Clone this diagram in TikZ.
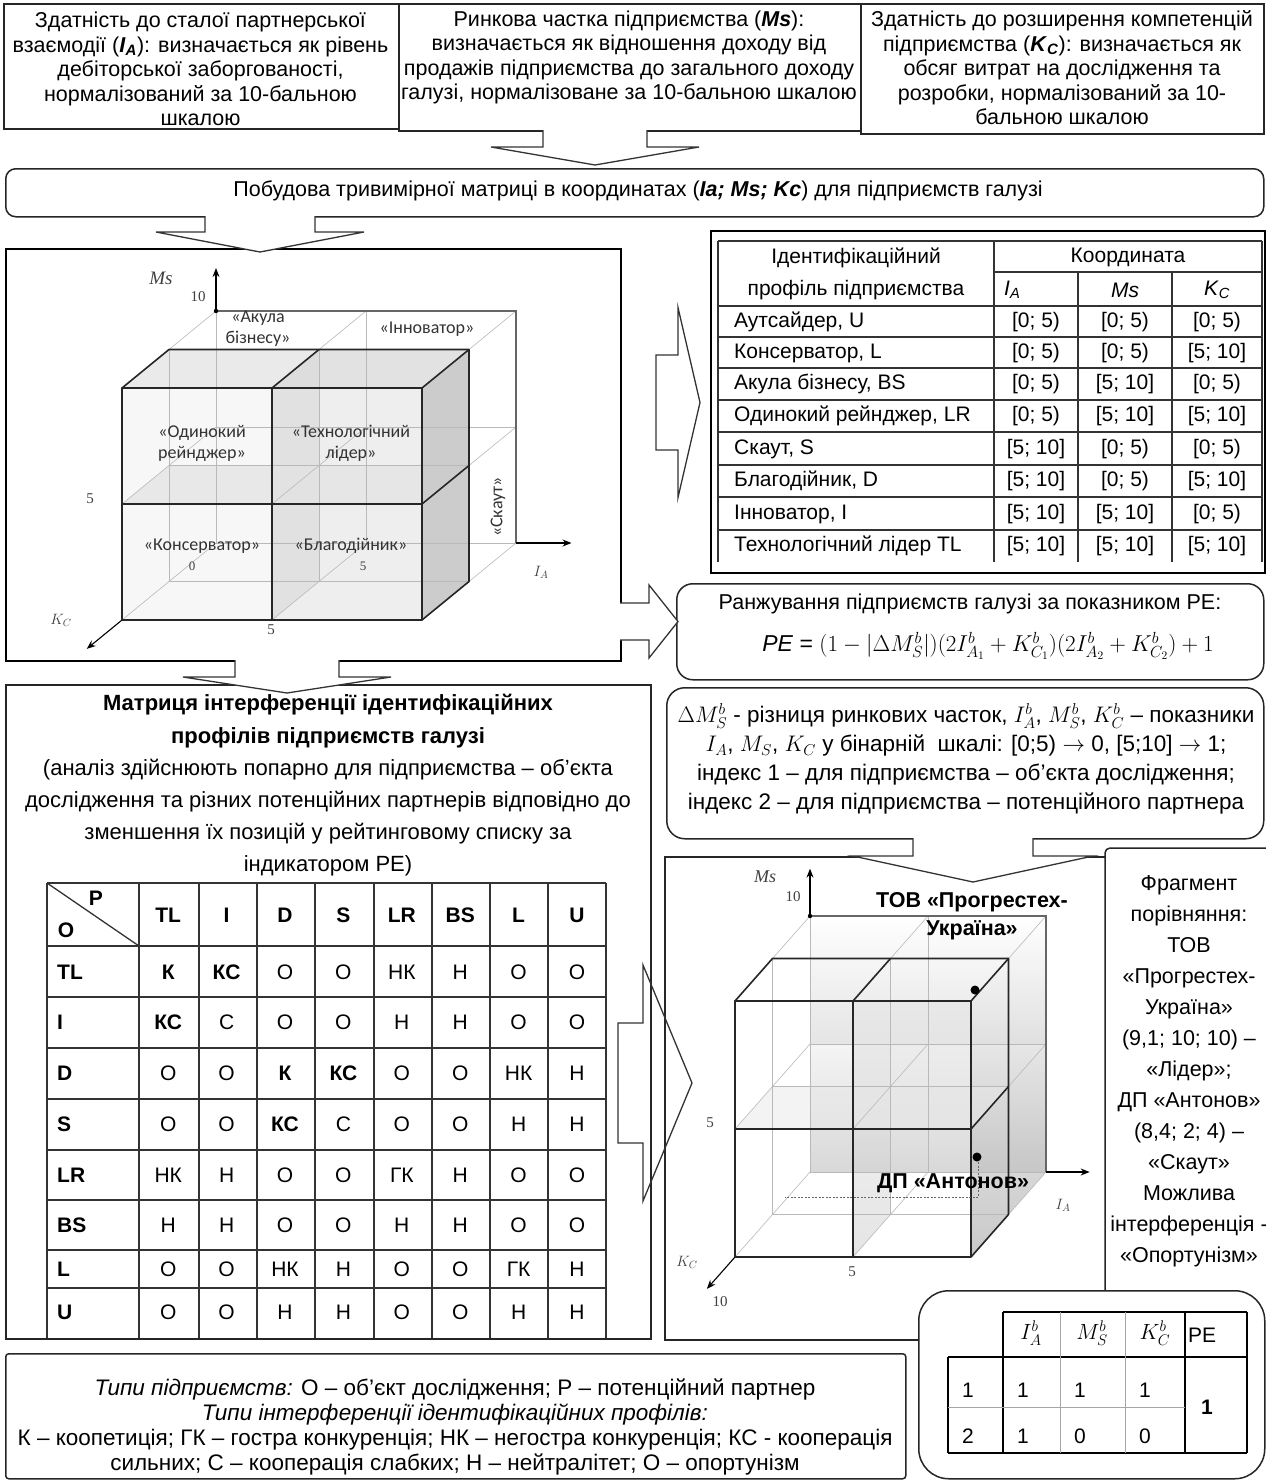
\RequirePackage{fix-cm}
\documentclass[tikz,border=0pt]{standalone}
\usepackage{fontspec}
\setmainfont{Liberation Sans}
\newfontfamily\axisfont{Liberation Serif}
\newfontfamily\lblfont{Carlito}
\usetikzlibrary{arrows.meta,calc}

% block arrow pointing down: base point, shaft half-width, head half-width, shaft length, total length
\newcommand\blkdown[6][]{%
  \draw[blk,#1] ($(#2)+(-#3,0)$) -- ($(#2)+(-#3,#5)$) -- ($(#2)+(-#4,#5)$) -- ($(#2)+(0,#6)$)
    -- ($(#2)+(#4,#5)$) -- ($(#2)+(#3,#5)$) -- ($(#2)+(#3,0)$);}
% block arrow pointing right: base point, shaft half-height, head half-height, shaft length, total length, closing
\newcommand\blkright[7][]{%
  \draw[blk,#1] ($(#2)+(0,-#3)$) -- ($(#2)+(#5,-#3)$) -- ($(#2)+(#5,-#4)$) -- ($(#2)+(#6,0)$)
    -- ($(#2)+(#5,#4)$) -- ($(#2)+(#5,#3)$) -- ($(#2)+(0,#3)$) #7;}

% lines of a 2x2x2 matrix cube (drawn inside a scope with 3D unit vectors)
\newcommand\cubelines{%
  \foreach \i in {0,1,2} \foreach \j in {0,1,2} {\draw[thinln] (\i,\j,0) -- (\i,\j,2);}
  \foreach \k in {0,1} {
    \foreach \i in {0,1,2} {\draw[thinln] (\i,0,\k) -- (\i,2,\k);}
    \foreach \j in {0,1,2} {\draw[thinln] (0,\j,\k) -- (2,\j,\k);}
  }
  \draw[backln] (0,2,0) -- (2,2,0) -- (2,0,0);
  \draw[axisln] (0,2,0) -- (0,2.37,0);
  \draw[axisln] (2,0,0) -- (2.37,0,0);
  \draw[axisln] (0,0,2) -- (0,0,2.75);
  \fill[black] (0,2,0) circle (2.2pt);
  \draw[boldln] (0,0,2) -- (2,0,2) -- (2,2,2) -- (0,2,2) -- cycle;
  \draw[boldln] (1,0,2) -- (1,2,2);
  \draw[boldln] (0,1,2) -- (2,1,2);
  \draw[boldln] (0,2,2) -- (0,2,1) -- (2,2,1) -- (2,0,1) -- (2,0,2);
  \draw[boldln] (1,2,2) -- (1,2,1);
  \draw[boldln] (2,2,2) -- (2,2,1);
  \draw[boldln] (2,1,2) -- (2,1,1);
}

\begin{document}
\begin{tikzpicture}[x=1pt,y=-1pt,
  box/.style={draw=black!85, line width=1.5pt, inner sep=0pt, anchor=north west},
  rbox/.style={box, rounded corners=12pt},
  blk/.style={draw=black!80, line width=1.3pt, line join=miter, fill=white},
  txt/.style={font=\fontsize{21.5}{24.5}\selectfont, align=center, inner sep=0pt},
  cell/.style={font=\fontsize{21}{24}\selectfont, inner sep=0pt},
  bcell/.style={font=\bfseries\fontsize{21}{24}\selectfont, inner sep=0pt},
  tbl/.style={draw=black!80, line width=1.3pt},
  thinln/.style={draw=gray!55, line width=0.6pt},
  boldln/.style={draw=black!85, line width=1.6pt, line join=round},
  backln/.style={draw=black!60, line width=1.1pt},
  axisln/.style={draw=black, line width=1.1pt, -{Stealth[length=9pt,width=7pt]}},
  cubelbl/.style={font=\lblfont\fontsize{18}{21}\selectfont, align=center, inner sep=0pt, text=black!80},
  axlbl/.style={font=\axisfont\fontsize{15}{17}\selectfont, inner sep=0pt, text=black!75},
  firm/.style={font=\bfseries\fontsize{21.5}{28}\selectfont, align=center, inner sep=0pt},
]
\useasboundingbox (0,0) rectangle (1266,1481);
\fill[white] (0,0) rectangle (1266,1481);

% ---------- indicator boxes ----------
\node[box, minimum width=395pt, minimum height=125pt] (b1) at (3,3) {};
\node[box, minimum width=462pt, minimum height=127pt] (b2) at (398,3) {};
\node[box, minimum width=403pt, minimum height=130pt] (b3) at (860,3) {};
\node[txt] (t1) at (200.5,69) {Здатність до сталої партнерської\\
  взаємодії (\textbf{\textit{I}}\textsubscript{\textbf{\textit{A}}}): визначається як рівень\\
  дебіторської заборгованості,\\ нормалізований за 10-бальною\\ шкалою};
\node[txt] (t2) at (629,57.5) {Ринкова частка підприємства (\textbf{\textit{Ms}}):\\
  визначається як відношення доходу від\\ продажів підприємства до загального доходу\\
  галузі, нормалізоване за 10-бальною шкалою};
\node[txt] (t3) at (1062,68) {Здатність до розширення компетенцій\\
  підприємства (\textbf{\textit{K}}\textsubscript{\textbf{\textit{C}}}): визначається як\\
  обсяг витрат на дослідження та\\ розробки, нормалізований за 10-\\ бальною шкалою};

% ---------- construction of the matrix ----------
\node[rbox, minimum width=1258pt, minimum height=48pt, rounded corners=10pt] (r1) at (5,168) {};
\node[txt] (r1t) at (638,191) {Побудова тривимірної матриці в координатах (\textbf{\textit{Ia; Ms; Kc}}) для підприємств галузі};

% ---------- main frames ----------
\node[box, line width=2pt, draw=black, minimum width=615pt, minimum height=412pt] (c1) at (5,248) {};
\node[box, line width=2pt, draw=black, minimum width=554pt, minimum height=342pt] (tf) at (710,230) {};
\node[rbox, minimum width=587pt, minimum height=96pt, rounded corners=16pt] (r2) at (676,583) {};
\node[rbox, minimum width=597pt, minimum height=151pt, rounded corners=18pt] (r3) at (666,687) {};
\node[box, minimum width=645pt, minimum height=654pt] (mx) at (5,684) {};
\node[box, minimum width=900pt, minimum height=125pt, rounded corners=3pt] (lg) at (5,1353) {};
\node[rbox, minimum width=346pt, minimum height=188pt, rounded corners=30pt] (rt) at (918,1290) {};
\draw[draw=black!85, line width=1.5pt] (1105,857) -- (665,857) -- (665,1340) -- (918,1340);
\draw[draw=black!85, line width=1.5pt, rounded corners=5pt] (1105,1290) -- (1105,848) -- (1268,848);

% ---------- block arrows ----------
\coordinate (a1) at (595,130);   \blkdown{a1}{52}{104}{17}{35}
\coordinate (a2) at (260,216);   \blkdown{a2}{55}{104}{16}{36}
\coordinate (a3) at (656,402.5); \blkright{a3}{47.5}{95}{22}{44}{-- cycle}
\coordinate (a4) at (620,621.5); \blkright{a4}{18.5}{36.5}{29}{58}{}
\coordinate (a5) at (973,838);   \blkdown{a5}{60}{120}{18}{44}
\coordinate (a6) at (287,660);   \blkdown{a6}{52}{104}{17}{33}
\coordinate (a7) at (618,1083);  \blkright[fill=none]{a7}{60}{118}{25}{74}{-- cycle}

% ---------- upper cube: identification profiles ----------
\begin{scope}[shift={(216,543)}, x={(150pt,0pt)}, y={(0pt,116pt)}, z={(-47pt,-38.5pt)}]
  \fill[gray!6] (0,0,2) -- (1,0,2) -- (1,2,2) -- (0,2,2) -- cycle;
  \fill[gray!13] (1,0,2) -- (2,0,2) -- (2,2,2) -- (1,2,2) -- cycle;
  \fill[gray!30, opacity=.6] (1,0,1) -- (1,0,2) -- (1,2,2) -- (1,2,1) -- cycle;
  \fill[gray!22, opacity=.7] (0,1,1) -- (2,1,1) -- (2,1,2) -- (0,1,2) -- cycle;
  \fill[gray!20, opacity=.8] (0,2,1) -- (1,2,1) -- (1,2,2) -- (0,2,2) -- cycle;
  \fill[gray!28, opacity=.8] (1,2,1) -- (2,2,1) -- (2,2,2) -- (1,2,2) -- cycle;
  \fill[gray!40] (2,0,1) -- (2,0,2) -- (2,2,2) -- (2,2,1) -- cycle;
  \cubelines
\end{scope}
\node[cubelbl] (bs) at (258,329) {«Акула\\бізнесу»};
\node[cubelbl] (in) at (427,329) {«Інноватор»};
\node[cubelbl] (lr) at (202,443) {«Одинокий\\рейнджер»};
\node[cubelbl] (tl) at (351,443) {«Технологічний\\лідер»};
\node[axlbl, font=\axisfont\fontsize{13}{15}\selectfont] (z1) at (192,566) {0};
\node[axlbl, font=\axisfont\fontsize{13}{15}\selectfont] (z2) at (363,566) {5};
\node[cubelbl] (cs) at (202,546) {«Консерватор»};
\node[cubelbl] (dn) at (351,546) {«Благодійник»};
\node[cubelbl, rotate=90] (sc) at (498,507) {«Скаут»};
\node[axlbl, font=\axisfont\itshape\fontsize{19}{21}\selectfont] (ms1) at (161,278) {Ms};
\node[axlbl] (m10) at (198,297) {10};
\node[axlbl] (m5) at (90,499) {5};
\node[axlbl] (i5) at (271,630) {5};
\node[axlbl] (kc1) at (61,620) {$K_C$};
\node[axlbl] (ia1) at (541,572) {$I_A$};

% ---------- profile table ----------
\draw[tbl] (718,241) -- (1262,241);
\draw[tbl] (994,272) -- (1262,272);
\foreach \yy in {306,337,368,400,432,465,497,530} {\draw[tbl] (718,\yy) -- (1262,\yy);}
\foreach \xx in {718,994,1262} {\draw[tbl] (\xx,241) -- (\xx,562);}
\foreach \xx in {1078,1172} {\draw[tbl] (\xx,272) -- (\xx,562);}
\node[cell, align=center, font=\fontsize{21}{32}\selectfont] (th) at (856,274) {Ідентифікаційний\\профіль підприємства};
\node[cell] (tk) at (1128,257) {Координата};
\node[cell, anchor=west] (tia) at (1004,290) {\textit{I}\textsubscript{\textit{A}}};
\node[cell] (tms) at (1125,290) {\textit{Ms}};
\node[cell] (tkc) at (1217,290) {\textit{K}\textsubscript{\textit{C}}};
\newcommand\trow[5]{%
  \node[cell, anchor=west] (tl#1) at (734,#1) {#2};
  \node[cell] (ta#1) at (1036,#1) {#3};
  \node[cell] (tb#1) at (1125,#1) {#4};
  \node[cell] (tc#1) at (1217,#1) {#5};}
\trow{322}{Аутсайдер, U}{[0; 5)}{[0; 5)}{[0; 5)}
\trow{353}{Консерватор, L}{[0; 5)}{[0; 5)}{[5; 10]}
\trow{384}{Акула бізнесу, BS}{[0; 5)}{[5; 10]}{[0; 5)}
\trow{416}{Одинокий рейнджер, LR}{[0; 5)}{[5; 10]}{[5; 10]}
\trow{449}{Скаут, S}{[5; 10]}{[0; 5)}{[0; 5)}
\trow{481}{Благодійник, D}{[5; 10]}{[0; 5)}{[5; 10]}
\trow{514}{Інноватор, I}{[5; 10]}{[5; 10]}{[0; 5)}
\trow{546}{Технологічний лідер TL}{[5; 10]}{[5; 10]}{[5; 10]}

% ---------- ranking ----------
\node[txt] (r2a) at (970,604) {Ранжування підприємств галузі за показником PE:};
\node[txt, font=\fontsize{23}{26}\selectfont] (r2b) at (988,646) {\textit{PE} = $(1-|\Delta M_S^b|)\Bigl(2I^b_{A_1}+K^b_{C_1}\Bigr)\Bigl(2I^b_{A_2}+K^b_{C_2}\Bigr)+1$};
\node[txt, font=\fontsize{22.5}{29}\selectfont] (r3t) at (966,759) {$\Delta M_S^b$ - різниця ринкових часток, $I_A^b$, $M_S^b$, $K_C^b$ – показники\\
  $I_A$, $M_S$, $K_C$ у бінарній\ \ шкалі: [0;5) $\to$ 0, [5;10] $\to$ 1;\\
  індекс 1 – для підприємства – об’єкта дослідження;\\
  індекс 2 – для підприємства – потенційного партнера};

% ---------- interference matrix ----------
\node[txt, font=\fontsize{22}{32.2}\selectfont] (mh) at (328,785.5) {\textbf{Матриця інтерференції ідентифікаційних}\\
  \textbf{профілів підприємств галузі}\\
  (аналіз здійснюють попарно для підприємства – об’єкта\\
  дослідження та різних потенційних партнерів відповідно до\\
  зменшення їх позицій у рейтинговому списку за\\ індикатором PE)};
\foreach \yy in {883,946,997,1048,1099,1150,1200,1250,1288} {\draw[tbl] (47,\yy) -- (606,\yy);}
\foreach \xx in {47,139,199,257,315,374,432,490,548,606} {\draw[tbl] (\xx,883) -- (\xx,1338);}
\draw[tbl] (47,883) -- (139,946);
\node[bcell] (mp) at (96,898) {P};
\node[bcell] (mo) at (66,930) {O};
\foreach \h [count=\c] in {TL,I,D,S,LR,BS,L,U} {
  \node[bcell] (mc\c) at ({139+58.4*(\c-0.5)},915) {\h};}
\newcommand\mrow[3]{%
  \node[bcell, anchor=west] (mr#1) at (57,#1) {#2};
  \foreach \v [count=\c] in {#3} {\node[cell] (m#1-\c) at ({139+58.4*(\c-0.5)},#1) {\v};}}
\mrow{972}{TL}{\textbf{К},\textbf{КС},О,О,НК,Н,О,О}
\mrow{1022}{I}{\textbf{КС},С,О,О,Н,Н,О,О}
\mrow{1073}{D}{О,О,\textbf{К},\textbf{КС},О,О,НК,Н}
\mrow{1124}{S}{О,О,\textbf{КС},С,О,О,Н,Н}
\mrow{1175}{LR}{НК,Н,О,О,ГК,Н,О,О}
\mrow{1225}{BS}{Н,Н,О,О,Н,Н,О,О}
\mrow{1269}{L}{О,О,НК,Н,О,О,ГК,Н}
\mrow{1312}{U}{О,О,Н,Н,О,О,Н,Н}

% ---------- lower cube: example firms ----------
\begin{scope}[shift={(810,1172)}, x={(118pt,0pt)}, y={(0pt,128pt)}, z={(-37.5pt,-42.5pt)}]
  \shade[top color=gray!15, bottom color=gray!60, opacity=.5] (0,0,0) -- (2,0,0) -- (2,1,0) -- (0,1,0) -- cycle;
  \shade[top color=white, bottom color=gray!45, opacity=.45] (0,1,0) -- (2,1,0) -- (2,2,0) -- (0,2,0) -- cycle;
  \shade[top color=white, bottom color=gray!70, opacity=.6] (2,0,0) -- (2,0,2) -- (2,2,2) -- (2,2,0) -- cycle;
  \shade[top color=gray!8, bottom color=gray!45, opacity=.45] (1,0,1) -- (1,0,2) -- (1,2,2) -- (1,2,1) -- cycle;
  \fill[gray!18, opacity=.5] (0,1,1) -- (2,1,1) -- (2,1,2) -- (0,1,2) -- cycle;
  \fill[gray!20, opacity=.5] (1,1,2) -- (2,1,2) -- (2,2,2) -- (1,2,2) -- cycle;
  \cubelines
\end{scope}
\draw[black!60, line width=0.8pt, dash pattern=on 2pt off 1.5pt] (978,1162) -- (978,1197) -- (785,1197);
\fill[black] (975,990) circle (4.5pt);
\fill[black] (977,1157) circle (4.5pt);
\node[firm] (fp) at (972,916) {ТОВ «Прогрестех-\\ Україна»};
\node[firm] (fa) at (953,1183) {ДП «Антонов»};
\node[axlbl, font=\axisfont\itshape\fontsize{18}{20}\selectfont] (ms2) at (765,877) {Ms};
\node[axlbl] (n10) at (793,897) {10};
\node[axlbl] (n5) at (710,1123) {5};
\node[axlbl] (kc2) at (687,1262) {$K_C$};
\node[axlbl] (k10) at (720,1302) {10};
\node[axlbl] (i52) at (852,1272) {5};
\node[axlbl] (ia2) at (1063,1205) {$I_A$};

% ---------- comparison note ----------
\node[txt, font=\fontsize{21.5}{31}\selectfont] (fr) at (1189,1071) {Фрагмент\\ порівняння:\\ ТОВ\\ «Прогрестех-\\ Україна»\\
  (9,1; 10; 10) –\\ «Лідер»;\\ ДП «Антонов»\\ (8,4; 2; 4) –\\ «Скаут»\\ Можлива\\ інтерференція -\\ «Опортунізм»};

% ---------- binary check table ----------
\draw[tbl, line width=1.6pt, draw=black] (1003,1312) -- (1247,1312);
\draw[tbl, line width=1.6pt, draw=black] (948,1357) -- (1247,1357);
\draw[tbl, line width=1.6pt, draw=black] (948,1453) -- (1247,1453);
\draw[tbl, line width=1.6pt, draw=black] (948,1357) -- (948,1453);
\foreach \xx in {1003,1185,1247} {\draw[tbl, line width=1.6pt, draw=black] (\xx,1312) -- (\xx,1453);}
\foreach \xx in {1060,1125} {\draw[draw=gray!70, line width=1pt] (\xx,1312) -- (\xx,1453);}
\draw[draw=gray!70, line width=1pt] (948,1407) -- (1185,1407);
\node[cell, font=\fontsize{22}{24}\selectfont] (hi) at (1031,1333) {$I_A^b$};
\node[cell, font=\fontsize{22}{24}\selectfont] (hm) at (1092,1333) {$M_S^b$};
\node[cell, font=\fontsize{22}{24}\selectfont] (hk) at (1155,1333) {$K_C^b$};
\node[cell, anchor=west] (hp) at (1188,1335) {PE};
\node[cell] (q1) at (968,1390) {1};
\node[cell] (q2) at (1023,1390) {1};
\node[cell] (q3) at (1080,1390) {1};
\node[cell] (q4) at (1145,1390) {1};
\node[cell] (w1) at (968,1436) {2};
\node[cell] (w2) at (1023,1436) {1};
\node[cell] (w3) at (1080,1436) {0};
\node[cell] (w4) at (1145,1436) {0};
\node[bcell] (pe) at (1207,1407) {1};

% ---------- legend ----------
\node[txt, font=\fontsize{22.5}{25.3}\selectfont] (lgt) at (455,1427) {\textit{Типи підприємств:} О – об’єкт дослідження; Р – потенційний партнер\\
  \textit{Типи інтерференції ідентифікаційних профілів:}\\
  К – коопетиція; ГК – гостра конкуренція; НК – негостра конкуренція; КС - кооперація\\
  сильних; С – кооперація слабких; Н – нейтралітет; О – опортунізм};
\end{tikzpicture}
\end{document}
